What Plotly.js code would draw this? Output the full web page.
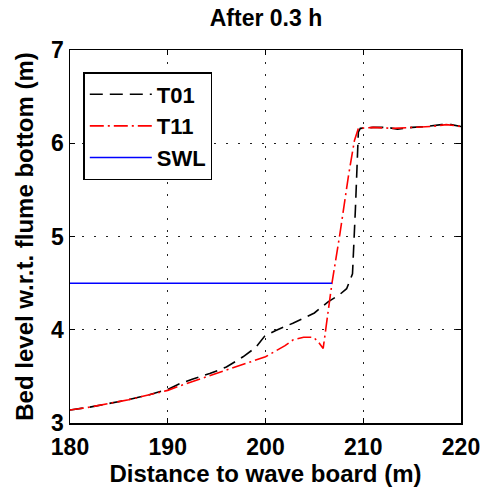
<!DOCTYPE html>
<html>
<head>
<meta charset="utf-8">
<script src="https://cdn.plot.ly/plotly-3.0.1.min.js"></script>
<style>html,body{margin:0;padding:0;background:#fff;}</style>
</head>
<body>
<div id="chart" style="width:486px;height:495px;"></div>
<script>
const t01X = [180, 182, 184, 186, 188, 190, 191.2, 192.5, 194.3, 196, 197.7, 199, 199.9, 201, 202.8, 204, 205, 206.4, 207.5, 208.3, 208.9, 209.2, 209.5, 209.7, 211, 212.5, 213.5, 215, 216.5, 218, 219, 220];
const t01Y = [3.14, 3.17, 3.21, 3.25, 3.30, 3.36, 3.42, 3.47, 3.53, 3.60, 3.71, 3.81, 3.93, 3.99, 4.07, 4.13, 4.18, 4.30, 4.37, 4.44, 4.60, 5.30, 6.12, 6.16, 6.17, 6.17, 6.15, 6.17, 6.18, 6.20, 6.20, 6.18];
const t11X = [180, 182, 184, 186, 188, 190, 191, 193, 195, 197, 199, 200, 201, 202, 202.8, 203.9, 204.9, 205.4, 205.9, 206.8, 207.6, 208.5, 209.1, 209.5, 211, 213, 215, 217, 218.5, 220];
const t11Y = [3.14, 3.17, 3.21, 3.25, 3.30, 3.35, 3.39, 3.46, 3.53, 3.60, 3.67, 3.71, 3.77, 3.83, 3.89, 3.92, 3.92, 3.87, 3.80, 4.50, 5.02, 5.66, 6.03, 6.16, 6.17, 6.16, 6.17, 6.18, 6.20, 6.18];
const swlX = [180, 206.8];
const swlY = [4.5, 4.5];
const xTicks = [180, 190, 200, 210, 220];
const yTicks = [3, 4, 5, 6, 7];

const FONT = 'Liberation Sans, Arial, sans-serif';
const traces = [
  {x: t01X, y: t01Y, name: 'T01', mode: 'lines', line: {color: '#000000', width: 1.6, dash: '13px,7px'}},
  {x: t11X, y: t11Y, name: 'T11', mode: 'lines', line: {color: '#ff0000', width: 1.6, dash: '14px,4px,2px,4px'}},
  {x: swlX, y: swlY, name: 'SWL', mode: 'lines', line: {color: '#0000ff', width: 1.5}}
];
const axisCommon = {
  showline: true, mirror: 'ticks', linecolor: '#000', linewidth: 1.5,
  ticks: 'inside', ticklen: 5, tickcolor: '#000',
  showgrid: true, gridcolor: '#222', griddash: '2px,10px', gridwidth: 1,
  zeroline: false,
  tickfont: {family: FONT, size: 23, color: '#000', weight: 'bold'}
};
const layout = {
  width: 486, height: 495,
  margin: {l: 70, r: 25, t: 50, b: 72},
  paper_bgcolor: '#fff', plot_bgcolor: '#fff',
  title: {text: 'After 0.3 h', font: {family: FONT, size: 23, color: '#000', weight: 'bold'}, x: 266 / 486, xanchor: 'center', y: 1 - 18 / 495, yanchor: 'middle'},
  xaxis: Object.assign({}, axisCommon, {range: [180, 220], tickvals: xTicks, ticktext: xTicks.map(String), ticklabelstandoff: 3,
    title: {text: 'Distance to wave board (m)', font: {family: FONT, size: 24, color: '#000', weight: 'bold'}, standoff: 0}}),
  yaxis: Object.assign({}, axisCommon, {range: [3, 7], tickvals: yTicks, ticktext: yTicks.map(String),
    title: {text: 'Bed level w.r.t. flume bottom (m)', font: {family: FONT, size: 24, color: '#000', weight: 'bold'}, standoff: 10}}),
  showlegend: true,
  legend: {x: 0.034, y: (423 - 72) / 373, xanchor: 'left', yanchor: 'top', bgcolor: '#fff', bordercolor: '#000', borderwidth: 1.5,
    font: {family: FONT, size: 22, color: '#000', weight: 'bold'}, tracegroupgap: 0, itemwidth: 62}
};
Plotly.newPlot('chart', traces, layout, {displayModeBar: false, staticPlot: true});
</script>
</body>
</html>
